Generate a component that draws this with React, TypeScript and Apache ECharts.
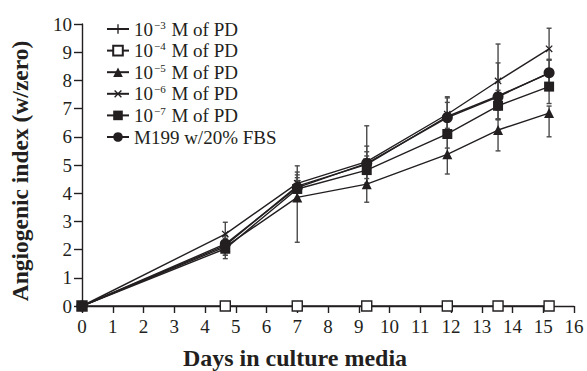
import React, { useEffect, useRef } from "react";
import * as echarts from "echarts";

const DAYS = [0, 4.66, 7, 9.26, 11.88, 13.53, 15.19];
const X_TICKS = [0, 16];
const Y_TICKS = [0, 10];
const X_TITLE = "Days in culture media";
const Y_TITLE = "Angiogenic index (w/zero)";

const NAMES = ["10⁻³ M of PD", "10⁻⁴ M of PD", "10⁻⁵ M of PD", "10⁻⁶ M of PD", "10⁻⁷ M of PD", "M199 w/20% FBS"];

const PD3 = [0, 2.15, 4.25, 5.02, 6.72, 7.45, 8.25];
const PD3_LO = [0, 0.35, 0.45, 0.35, 0.5, 0.5, 0.5];
const PD3_HI = [0, 0.35, 0.5, 0.45, 0.5, 0.5, 0.5];

const PD4 = [0, 0, 0, 0, 0, 0, 0];

const PD5 = [0, 2.1, 3.85, 4.32, 5.38, 6.24, 6.84];
const PD5_LO = [0, 0.3, 1.59, 0.64, 0.7, 0.74, 0.84];
const PD5_HI = [0, 0.3, 0.6, 0.55, 0.6, 0.4, 0.25];

const PD6 = [0, 2.55, 4.35, 5.12, 6.8, 7.98, 9.12];
const PD6_LO = [0, 0.3, 0.5, 0.6, 0.5, 0.7, 0.4];
const PD6_HI = [0, 0.42, 0.62, 0.55, 0.62, 1.31, 0.73];

const PD7 = [0, 2.03, 4.15, 4.82, 6.1, 7.1, 7.78];
const PD7_LO = [0, 0.35, 0.4, 0.5, 0.5, 0.5, 0.6];
const PD7_HI = [0, 0.3, 0.4, 0.5, 0.5, 0.55, 0.45];

const M199 = [0, 2.2, 4.2, 5.06, 6.68, 7.42, 8.27];
const M199_LO = [0, 0.3, 0.4, 0.7, 0.6, 0.8, 0.6];
const M199_HI = [0, 0.3, 0.45, 1.33, 0.7, 1.2, 0.45];

const INK = "#231f20";
const ERR = "#4a4a4a";
const FONT = "Liberation Serif";
const PLUS = "path://M4.3,0H5.7V10H4.3ZM0,4.3H10V5.7H0Z";

const SUP: Record<string, string> = { "³": "3", "⁴": "4", "⁵": "5", "⁶": "6", "⁷": "7" };

function lineSeries(name: string, values: number[], symbol: string, size: number, extra: any = {}) {
  return {
    type: "line",
    name,
    data: DAYS.map((d, i) => [d, values[i]]),
    symbol,
    symbolSize: size,
    lineStyle: { color: INK, width: 1.4 },
    itemStyle: { color: INK },
    z: 3,
    ...extra,
  };
}

function errSeries(values: number[], lo: number[], hi: number[]) {
  return {
    type: "custom",
    silent: true,
    z: 1,
    encode: { x: 0, y: [1, 2] },
    data: DAYS.map((d, i) => [d, values[i] - lo[i], values[i] + hi[i]]).filter((_, i) => lo[i] + hi[i] > 0),
    renderItem: (_p: any, api: any) => {
      const x = api.value(0);
      const a = api.coord([x, api.value(1)]);
      const b = api.coord([x, api.value(2)]);
      const st = { stroke: ERR, lineWidth: 1.4 };
      return {
        type: "group",
        children: [
          { type: "line", shape: { x1: a[0], y1: a[1], x2: b[0], y2: b[1] }, style: st },
          { type: "line", shape: { x1: a[0] - 2.5, y1: a[1], x2: a[0] + 2.5, y2: a[1] }, style: st },
          { type: "line", shape: { x1: b[0] - 2.5, y1: b[1], x2: b[0] + 2.5, y2: b[1] }, style: st },
        ],
      };
    },
  };
}

export default function App() {
  const ref = useRef<HTMLDivElement>(null);
  useEffect(() => {
    document.body.style.margin = "0";
    const chart = echarts.init(ref.current!, undefined, { renderer: "svg" });
    chart.setOption({
      animation: false,
      backgroundColor: "#ffffff",
      textStyle: { fontFamily: FONT, color: INK },
      grid: { left: 82, right: 13, top: 24, bottom: 65 },
      graphic: [
        {
          type: "text",
          x: 295,
          y: 358,
          style: {
            text: X_TITLE,
            textAlign: "center",
            textVerticalAlign: "middle",
            fontFamily: FONT,
            fontSize: 24,
            fontWeight: "bold",
            fill: INK,
          },
        },
        {
          type: "text",
          x: 20,
          y: 171,
          rotation: Math.PI / 2,
          style: {
            text: Y_TITLE,
            textAlign: "center",
            textVerticalAlign: "middle",
            fontFamily: FONT,
            fontSize: 23.5,
            fontWeight: "bold",
            fill: INK,
          },
        },
      ],
      legend: {
        orient: "vertical",
        left: 101,
        top: 14,
        itemWidth: 22,
        itemHeight: 12,
        itemGap: 1.6,
        data: NAMES,
        formatter: (name: string) =>
          name.replace(/10⁻(.)/, (_m, d) => `10{sup|−${SUP[d] || d}}`),
        textStyle: {
          fontFamily: FONT,
          fontSize: 19,
          color: INK,
          lineHeight: 20,
          rich: {
            sup: { fontFamily: FONT, fontSize: 11, color: INK, verticalAlign: "top", lineHeight: 12, padding: [0, 1, 0, 1] },
          },
        },
      },
      xAxis: {
        type: "value",
        min: X_TICKS[0],
        max: X_TICKS[1],
        interval: 1,
        axisLine: { lineStyle: { color: INK, width: 1.4 } },
        axisTick: { length: 7, lineStyle: { color: INK, width: 1.4 } },
        axisLabel: { fontFamily: FONT, fontSize: 19, color: INK, margin: 11 },
        splitLine: { show: false },
      },
      yAxis: {
        type: "value",
        min: Y_TICKS[0],
        max: Y_TICKS[1],
        interval: 1,
        axisLine: { show: true, lineStyle: { color: INK, width: 1.4 } },
        axisTick: { show: true, length: 8, lineStyle: { color: INK, width: 1.4 } },
        axisLabel: { fontFamily: FONT, fontSize: 19, color: INK, margin: 10 },
        splitLine: { show: false },
      },
      series: [
        errSeries(PD3, PD3_LO, PD3_HI),
        errSeries(PD5, PD5_LO, PD5_HI),
        errSeries(PD6, PD6_LO, PD6_HI),
        errSeries(PD7, PD7_LO, PD7_HI),
        errSeries(M199, M199_LO, M199_HI),
        lineSeries(NAMES[0], PD3, PLUS, 10),
        lineSeries(NAMES[1], PD4, "rect", 10, {
          itemStyle: { color: "#ffffff", borderColor: INK, borderWidth: 1.4 },
          z: 4,
        }),
        lineSeries(NAMES[2], PD5, "triangle", 10),
        lineSeries(NAMES[3], PD6, PLUS, 9, { symbolRotate: 45 }),
        lineSeries(NAMES[5], M199, "circle", 11),
        lineSeries(NAMES[4], PD7, "rect", 10, { z: 5 }),
      ],
    });
    return () => chart.dispose();
  }, []);
  return <div ref={ref} style={{ width: 587, height: 371, position: "fixed", left: 0, top: 0 }} />;
}
